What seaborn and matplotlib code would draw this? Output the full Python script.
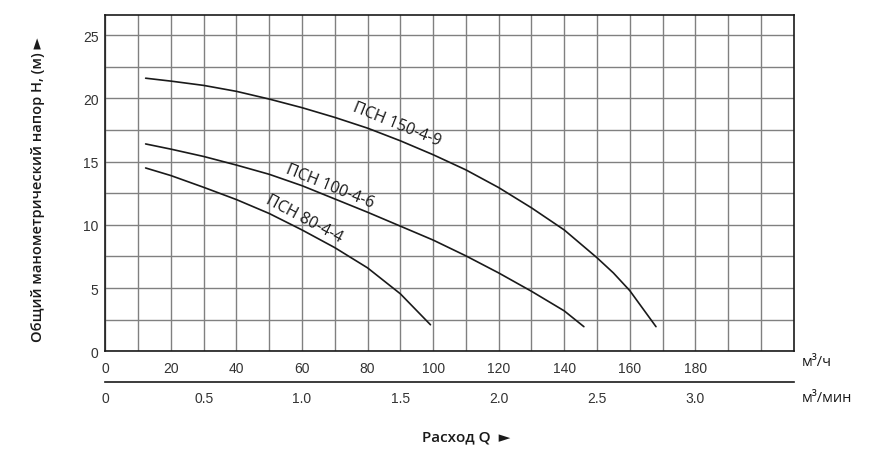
import matplotlib
matplotlib.use("Agg")
import matplotlib.pyplot as plt
import seaborn as sns
import pandas as pd
import numpy as np

# --- data (Q in m3/h, H in m) ---
q_150 = [12.3, 20, 30, 40, 50, 60, 70, 80, 90, 100, 110, 120, 130, 140, 150, 155, 160, 168]
h_150 = [21.6, 21.37, 21.03, 20.56, 19.95, 19.27, 18.5, 17.65, 16.65, 15.55, 14.35, 12.95, 11.35, 9.6, 7.4, 6.2, 4.8, 1.95]

q_100 = [12.3, 20, 30, 40, 50, 60, 70, 80, 90, 100, 110, 120, 130, 140, 146]
h_100 = [16.4, 15.99, 15.41, 14.73, 14.0, 13.1, 12.05, 11.0, 9.9, 8.8, 7.55, 6.2, 4.75, 3.2, 1.95]

q_80 = [12.3, 20, 30, 40, 50, 60, 70, 80, 90, 99.2]
h_80 = [14.5, 13.9, 12.97, 12.0, 10.9, 9.6, 8.2, 6.6, 4.55, 2.1]

pump_names = ["ПСН 150-4-9", "ПСН 100-4-6", "ПСН 80-4-4"]

x_ticks_h = [0, 20, 40, 60, 80, 100, 120, 140, 160, 180]
x_ticks_min = [0, 0.5, 1.0, 1.5, 2.0, 2.5, 3.0]
x_tick_labels_min = ["0", "0.5", "1.0", "1.5", "2.0", "2.5", "3.0"]
y_ticks = [0, 5, 10, 15, 20, 25]

df = pd.concat([
    pd.DataFrame({"Q": q_150, "H": h_150, "pump": pump_names[0]}),
    pd.DataFrame({"Q": q_100, "H": h_100, "pump": pump_names[1]}),
    pd.DataFrame({"Q": q_80, "H": h_80, "pump": pump_names[2]}),
])

sns.set_theme(style="white")
plt.rcParams["font.family"] = ["Liberation Sans", "DejaVu Sans"]
label_font = ["Open Sans", "DejaVu Sans"]

fig = plt.figure(figsize=(8.69, 4.77), dpi=100)
ax = fig.add_axes([0.1212, 0.2614, 0.7921, 0.7051])

sns.lineplot(data=df, x="Q", y="H", units="pump", estimator=None, sort=False,
             color="#1a1a1a", linewidth=1.2, ax=ax, legend=False)

ax.set_xlim(0, 210)
ax.set_ylim(0, 26.6)
ax.set_xticks(np.arange(0, 210, 10), minor=True)
ax.set_yticks(np.arange(0, 26, 2.5), minor=True)
ax.set_xticks(x_ticks_h)
ax.set_yticks(y_ticks)
ax.grid(which="minor", color="#808080", linewidth=1.0)
ax.grid(which="major", color="#808080", linewidth=1.0)
ax.set_axisbelow(True)
ax.tick_params(which="minor", length=0)
ax.tick_params(axis="x", which="major", direction="out", length=3, width=1, pad=4,
               labelsize=10, labelcolor="#333333", color="#1a1a1a")
ax.tick_params(axis="y", which="major", direction="out", length=3, width=1, pad=2,
               labelsize=10, labelcolor="#333333", color="#1a1a1a")
for s in ax.spines.values():
    s.set_color("#1a1a1a")
    s.set_linewidth(1.2)
ax.set_xlabel("")
ax.set_ylabel("")

# curve labels
ax.text(89, 18.0, pump_names[0], rotation=-22, ha="center", va="center",
        fontsize=11.5, family=label_font, color="#1a1a1a")
ax.text(68.5, 13.1, pump_names[1], rotation=-22, ha="center", va="center",
        fontsize=11.5, family=label_font, color="#1a1a1a")
ax.text(60.5, 10.5, pump_names[2], rotation=-28, ha="center", va="center",
        fontsize=11.5, family=label_font, color="#1a1a1a")

# second axis in m3/min
ax2 = fig.add_axes([0.1212, 1 - 382.7 / 477, 0.7921, 0.0001])
ax2.patch.set_visible(False)
for side in ["top", "left", "right"]:
    ax2.spines[side].set_visible(False)
ax2.spines["bottom"].set_color("#1a1a1a")
ax2.spines["bottom"].set_linewidth(1.2)
ax2.set_xlim(0, 3.5)
ax2.set_yticks([])
ax2.set_xticks(x_ticks_min)
ax2.set_xticklabels(x_tick_labels_min)
ax2.tick_params(axis="x", direction="in", length=5, width=1, pad=7,
                labelsize=10, labelcolor="#333333", color="#1a1a1a")
ax2.grid(False)

# units and axis titles
fig.text(802 / 869, 1 - 362.7 / 477, "м³/ч", fontsize=10.5, family=label_font,
         ha="left", va="center", color="#1a1a1a")
fig.text(802 / 869, 1 - 398.3 / 477, "м³/мин", fontsize=10.5, family=label_font,
         ha="left", va="center", color="#1a1a1a")
fig.text(466 / 869, 1 - 437 / 477, "Расход Q  ►", fontsize=11, family=label_font,
         fontweight="semibold", ha="center", va="center", color="#1a1a1a")
fig.text(38 / 869, 1 - 190 / 477, "Общий манометрический напор H, (м) ►", rotation=90,
         fontsize=10.5, family=label_font, fontweight="semibold",
         ha="center", va="center", color="#1a1a1a")

fig.savefig("out.png", dpi=100)
